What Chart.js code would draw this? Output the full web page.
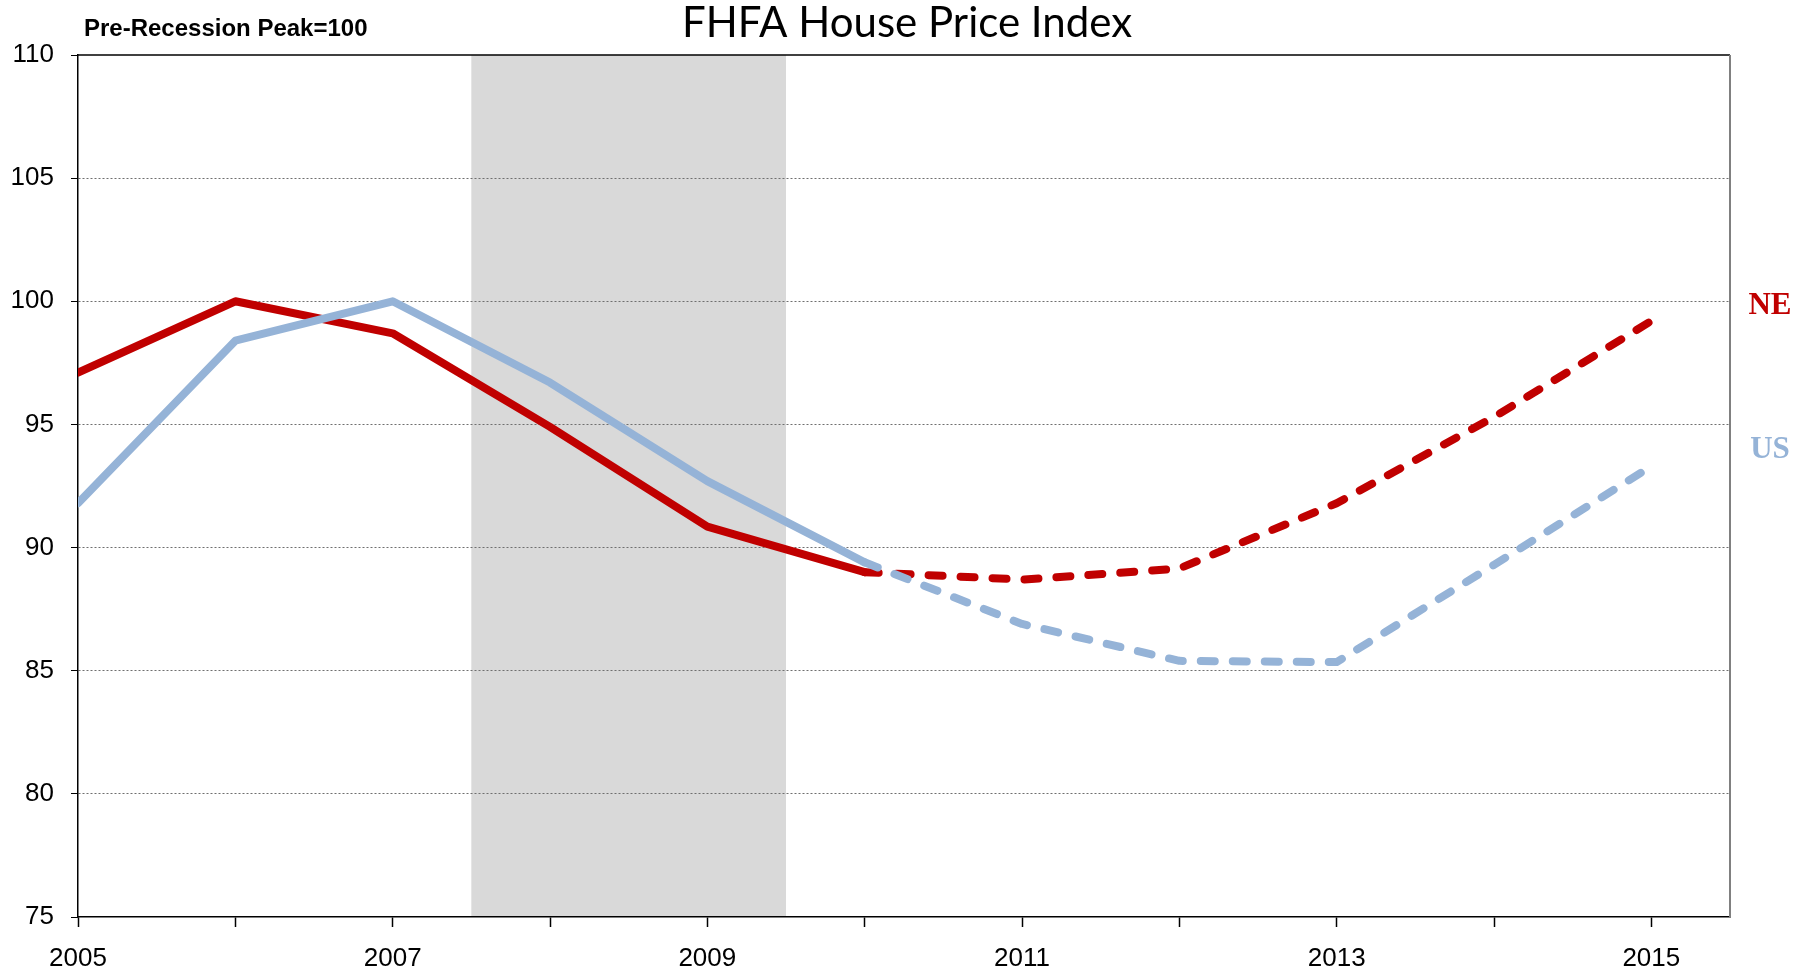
<!DOCTYPE html>
<html>
<head>
<meta charset="utf-8">
<script src="https://cdn.jsdelivr.net/npm/chart.js@4/dist/chart.umd.min.js"></script>
<style>
  html, body { margin: 0; padding: 0; background: #fff; }
  #wrap { width: 1806px; height: 973px; }
</style>
</head>
<body>
<div id="wrap"><canvas id="hpiChart" width="1806" height="973"></canvas></div>
<script>
// years on the x axis, one point per year
const years = [2005, 2006, 2007, 2008, 2009, 2010, 2011, 2012, 2013, 2014, 2015];
const neValues = [97.1, 100, 98.7, 94.9, 90.85, 89.0, 88.7, 89.15, 91.8, 95.3, 99.2];
const usValues = [91.8, 98.4, 100, 96.7, 92.7, 89.4, 86.9, 85.4, 85.35, 89.3, 93.3];
const yTicks = [75, 80, 85, 90, 95, 100, 105, 110];
const yearLabels = ["2005", "2007", "2009", "2011", "2013", "2015"];
const recession = [2007.5, 2009.5];
const forecastFrom = 5; // index where dashed part starts

const tickFont = "'Liberation Sans'";

document.addEventListener("DOMContentLoaded", function () {
  const ctx = document.getElementById("hpiChart").getContext("2d");

  const dashed = function (c) {
    return c.p0DataIndex >= forecastFrom ? [14, 18] : undefined;
  };

  const extras = {
    id: "extras",
    beforeDraw(chart) {
      const c = chart.ctx;
      const a = chart.chartArea;
      const x = chart.scales.x;
      c.save();
      c.fillStyle = "#d9d9d9";
      const x0 = x.getPixelForValue(recession[0]);
      const x1 = x.getPixelForValue(recession[1]);
      c.fillRect(x0, a.top, x1 - x0, a.bottom - a.top);
      c.restore();
    },
    afterDraw(chart) {
      const c = chart.ctx;
      const a = chart.chartArea;
      const y = chart.scales.y;
      c.save();
      // frame
      c.lineWidth = 1.5;
      c.strokeStyle = "#000";
      c.beginPath();
      c.moveTo(a.left, a.top);
      c.lineTo(a.right, a.top);
      c.stroke();
      c.strokeStyle = "#808080";
      c.lineWidth = 2;
      c.beginPath();
      c.moveTo(a.right, a.top);
      c.lineTo(a.right, a.bottom);
      c.stroke();

      // title and note
      c.fillStyle = "#000";
      c.textAlign = "center";
      c.textBaseline = "alphabetic";
      c.font = "42px Lato";
      c.fillText("FHFA House Price Index", 907, 37);
      c.textAlign = "left";
      c.font = "bold 24px 'Liberation Sans'";
      c.fillText("Pre-Recession Peak=100", 84, 36);

      // series labels
      c.font = "bold 31px 'Liberation Serif'";
      c.textAlign = "center";
      c.textBaseline = "middle";
      c.fillStyle = "#c00000";
      c.fillText("NE", 1770, y.getPixelForValue(neValues[neValues.length - 1]) - 15);
      c.fillStyle = "#95b3d7";
      c.fillText("US", 1770, y.getPixelForValue(usValues[usValues.length - 1]) - 16);
      c.restore();
    }
  };

  new Chart(ctx, {
    type: "line",
    data: {
      datasets: [
        {
          label: "US",
          data: years.map((yr, i) => ({ x: yr, y: usValues[i] })),
          borderColor: "#95b3d7",
          borderWidth: 8,
          borderCapStyle: "round",
          borderJoinStyle: "round",
          pointRadius: 0,
          tension: 0,
          fill: false,
          segment: { borderDash: dashed },
        },
        {
          label: "NE",
          data: years.map((yr, i) => ({ x: yr, y: neValues[i] })),
          borderColor: "#c00000",
          borderWidth: 8,
          borderCapStyle: "round",
          borderJoinStyle: "round",
          pointRadius: 0,
          tension: 0,
          fill: false,
          segment: { borderDash: dashed },
        },
      ],
    },
    options: {
      responsive: false,
      animation: false,
      layout: { padding: { top: 55, right: 76, left: 0, bottom: 0 } },
      plugins: {
        legend: { display: false },
        tooltip: { enabled: false },
      },
      scales: {
        x: {
          type: "linear",
          min: 2005,
          max: 2015.5,
          afterBuildTicks: (s) => { s.ticks = years.map((v) => ({ value: v })); },
          afterFit: (s) => { s.height = 56; },
          grid: {
            drawOnChartArea: false,
            drawTicks: true,
            tickLength: 10,
            tickColor: "#000",
            tickWidth: 1.5,
          },
          border: { display: true, color: "#000", width: 1.5 },
          ticks: {
            autoSkip: false,
            maxRotation: 0,
            padding: 16,
            color: "#000",
            font: { family: tickFont, size: 26 },
            callback: (v) => (yearLabels.includes(String(v)) ? String(v) : ""),
          },
        },
        y: {
          min: 75,
          max: 110,
          afterBuildTicks: (s) => { s.ticks = yTicks.map((v) => ({ value: v })); },
          afterFit: (s) => { s.width = 78; },
          grid: {
            color: (c) => (c.tick && (c.tick.value === 75 || c.tick.value === 110) ? "rgba(0,0,0,0)" : "#6f6f6f"),
            lineWidth: 1,
            drawTicks: true,
            tickLength: 7,
            tickColor: "#000",
            tickBorderDash: [],
          },
          border: { display: true, color: "#000", width: 1.5, dash: [2, 2] },
          ticks: {
            padding: 17,
            color: "#000",
            font: { family: tickFont, size: 26 },
          },
        },
      },
    },
    plugins: [extras],
  });
});
</script>
</body>
</html>
